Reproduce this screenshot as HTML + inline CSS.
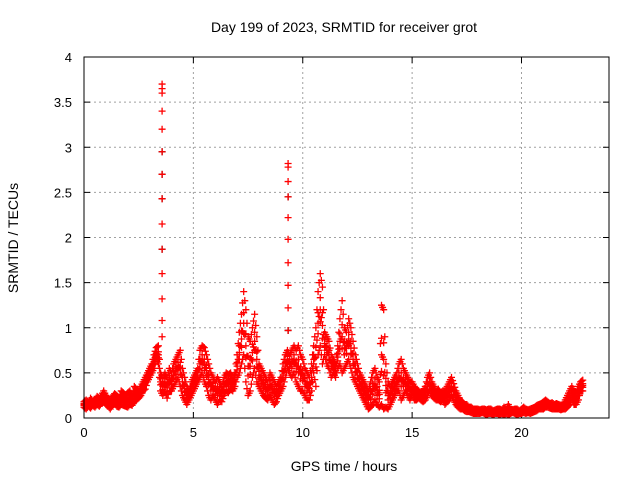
<!DOCTYPE html>
<html><head><meta charset="utf-8"><style>
body{margin:0;background:#fff;}
svg{display:block;font-family:"Liberation Sans",sans-serif;}
</style></head><body>
<svg id="chart" width="640" height="480">
<text x="344" y="32" font-size="14" text-anchor="middle">Day 199 of 2023, SRMTID for receiver grot</text>
<text x="344" y="471" font-size="14" text-anchor="middle">GPS time / hours</text>
<text transform="translate(18,238) rotate(-90)" font-size="14" text-anchor="middle">SRMTID / TECUs</text>
<g id="grid"></g><g id="ticks"></g><g id="marks"></g>
<rect x="84" y="57" width="525" height="361" fill="none" stroke="#000" stroke-width="1"/>
</svg>
<script>
const xTicks=[0,5,10,15,20];
const yTicks=[0,0.5,1,1.5,2,2.5,3,3.5,4];
const yTickLabels=["0","0.5","1","1.5","2","2.5","3","3.5","4"];
const tStart=0, tStep=0.1;
const upperVals=[.18,.2,.17,.22,.19,.2,.24,.22,.25,.3,
.25,.22,.2,.24,.27,.25,.22,.3,.28,.25,
.28,.3,.25,.35,.32,.3,.35,.4,.45,.5,
.55,.6,.7,.78,.8,.5,.45,.5,.45,.55,
.5,.6,.65,.7,.75,.55,.45,.35,.3,.4,
.45,.5,.55,.75,.8,.78,.7,.6,.5,.45,
.4,.45,.4,.35,.45,.5,.48,.5,.45,.5,
.7,.95,1.15,1.4,1.2,.9,.85,1.0,1.15,.9,
.6,.55,.5,.45,.4,.5,.45,.4,.35,.4,
.45,.6,.7,.75,.7,.75,.8,.75,.8,.7,
.65,.55,.5,.45,.6,.8,1.0,1.4,1.6,1.45,
.95,.9,.85,.7,.65,.6,.8,1.1,1.3,1.0,
.95,1.1,1.0,.85,.7,.6,.5,.45,.4,.35,
.3,.4,.5,.55,.45,.4,1.25,1.2,.6,.4,
.35,.4,.45,.5,.6,.65,.55,.5,.45,.4,
.4,.35,.32,.3,.28,.3,.35,.45,.5,.4,
.35,.3,.32,.28,.3,.3,.35,.4,.45,.38,
.3,.25,.2,.18,.15,.15,.12,.12,.1,.1,
.1,.09,.1,.1,.09,.1,.1,.08,.09,.1,
.1,.09,.12,.1,.15,.1,.09,.1,.1,.08,
.1,.12,.1,.09,.1,.11,.12,.14,.15,.16,
.18,.2,.18,.16,.17,.15,.16,.15,.14,.15,
.2,.25,.3,.35,.3,.28,.35,.4,.42];
const lowerVals=[.12,.1,.13,.11,.14,.12,.15,.13,.16,.18,
.15,.13,.1,.14,.16,.13,.12,.15,.14,.13,
.12,.15,.14,.18,.2,.22,.25,.3,.32,.4,
.45,.5,.55,.65,.6,.3,.25,.3,.22,.3,
.3,.35,.4,.45,.35,.25,.2,.15,.2,.25,
.3,.35,.4,.45,.5,.4,.35,.25,.2,.25,
.2,.15,.2,.18,.25,.3,.28,.32,.3,.35,
.45,.5,.6,.7,.4,.25,.3,.45,.55,.4,
.35,.3,.25,.22,.2,.25,.2,.15,.18,.25,
.3,.35,.45,.55,.5,.45,.5,.4,.35,.3,
.3,.25,.2,.2,.3,.5,.35,.7,.8,.6,
.7,.6,.55,.45,.5,.45,.55,.6,.5,.55,
.6,.65,.55,.45,.4,.35,.3,.25,.2,.15,
.1,.12,.15,.2,.15,.12,.15,.1,.12,.1,
.15,.2,.25,.3,.3,.2,.25,.3,.25,.2,
.25,.2,.2,.22,.2,.18,.2,.25,.3,.25,
.22,.2,.2,.18,.2,.15,.18,.2,.25,.2,
.15,.12,.1,.1,.08,.07,.07,.06,.05,.05,
.05,.05,.06,.05,.04,.05,.05,.04,.05,.05,
.04,.05,.04,.05,.04,.05,.06,.05,.04,.05,
.05,.06,.05,.06,.05,.06,.07,.08,.1,.1,
.1,.12,.12,.11,.1,.1,.1,.1,.09,.1,
.1,.12,.15,.2,.15,.15,.2,.3,.3];
const spike1Time=3.57;
const spike1Vals=[3.7,3.65,3.6,3.4,3.2,2.95,2.7,2.43,2.15,1.87,1.6,1.32,1.08,0.9];
const spike2Time=9.33;
const spike2Vals=[2.82,2.78,2.62,2.45,2.22,1.98,1.72,1.47,1.22,0.97];
const blackVals=[2.95,2.7,2.43,1.87];
const blackVals2=[2.45,0.97];

const X0=84,X1=609,Y0=418,Y1=57,XMAX=24,YMAX=4;
const xs=t=>X0+(X1-X0)*t/XMAX;
const ys=v=>Y0-(Y0-Y1)*v/YMAX;
const NS="http://www.w3.org/2000/svg";
const grid=document.getElementById('grid'),ticks=document.getElementById('ticks'),marks=document.getElementById('marks');
function mk(tag,attrs,parent){const e=document.createElementNS(NS,tag);for(const k in attrs)e.setAttribute(k,attrs[k]);parent.appendChild(e);return e;}
xTicks.forEach(t=>{
  const x=xs(t);
  if(t>0){const g=mk('line',{x1:x,x2:x,y1:Y1,y2:Y0,stroke:'#a0a0a0','stroke-dasharray':'2,3'},grid);
  
  }
  mk('line',{x1:x,x2:x,y1:Y0,y2:Y0-6,stroke:'#000'},ticks);
  mk('line',{x1:x,x2:x,y1:Y1,y2:Y1+6,stroke:'#000'},ticks);
  const l=mk('text',{x:x,y:Y0+19,'font-size':13,'text-anchor':'middle'},ticks);l.textContent=t;
  
  
});
yTicks.forEach((v,i)=>{
  const y=ys(v);
  if(v>0&&v<YMAX){const g=mk('line',{x1:X0,x2:X1,y1:y,y2:y,stroke:'#a0a0a0','stroke-dasharray':'2,3'},grid);
  
  }
  mk('line',{x1:X0,x2:X0+6,y1:y,y2:y,stroke:'#000'},ticks);
  mk('line',{x1:X1,x2:X1-6,y1:y,y2:y,stroke:'#000'},ticks);
  const l=mk('text',{x:X0-12,y:y+5,'font-size':13,'text-anchor':'end'},ticks);l.textContent=yTickLabels[i];
  
  
});
function plus(t,v,c){
  const x=xs(t),y=ys(v);
  const p=mk('path',{d:`M${x-3.5},${y}h7M${x},${y-3.5}v7`,stroke:c,'stroke-width':1.3,fill:'none'},marks);
  
  
}
upperVals.forEach((v,i)=>{
  const t=tStart+i*tStep,lo=lowerVals[i];
  plus(t,v,'#f00');plus(t,lo,'#f00');
  plus(t,(v+lo)/2,'#f00');plus(t,(2*v+lo)/3,'#f00');plus(t,(v+2*lo)/3,'#f00');
  if(i+1<upperVals.length){const v2=upperVals[i+1],l2=lowerVals[i+1];
    plus(t+tStep/2,(v+v2)/2,'#f00');plus(t+tStep/2,(lo+l2)/2,'#f00');plus(t+tStep/2,(v+v2+lo+l2)/4,'#f00');}
});
blackVals.forEach(v=>plus(spike1Time,v,'#000'));
blackVals2.forEach(v=>plus(spike2Time,v,'#000'));
spike1Vals.forEach(v=>plus(spike1Time,v,'#f00'));
spike2Vals.forEach(v=>plus(spike2Time,v,'#f00'));
</script>
</body></html>
